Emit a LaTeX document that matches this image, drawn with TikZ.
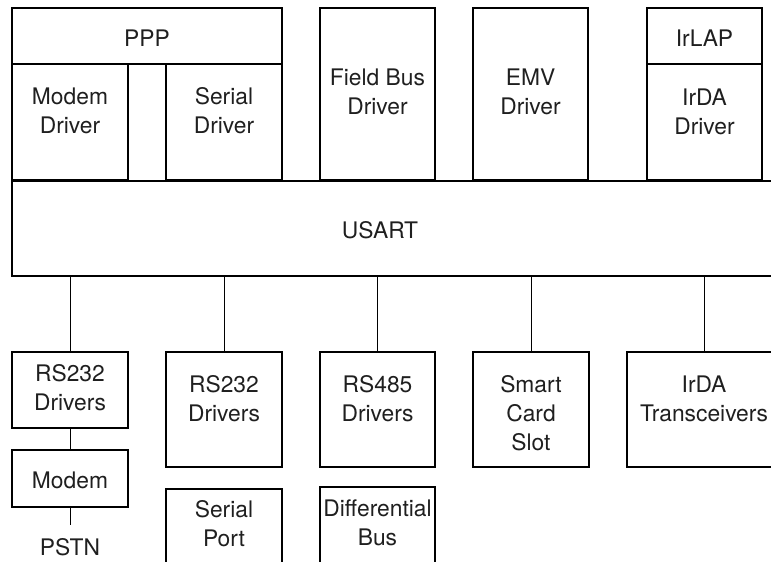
\documentclass[tikz,border=0pt]{standalone}
\usepackage{fontspec}
\setmainfont{TeX Gyre Heros}
\begin{document}
\begin{tikzpicture}[x=1pt,y=-1pt,
  box/.style={draw=black,line width=2.2pt,rectangle,inner sep=0pt,outer sep=0pt},
  txt/.style={inner sep=0pt,align=center,font=\fontsize{22.8}{29}\selectfont,text=black!88},
  wire/.style={draw=black,line width=1pt}]
\useasboundingbox (0,0) rectangle (771,562);
\clip (0,0) rectangle (771,562);
% top row boxes
\node[box,minimum width=270pt,minimum height=56pt] (ppp) at (147,36) {};
\node[box,minimum width=116pt,minimum height=116pt] (modemdrv) at (70,122) {};
\node[box,minimum width=116pt,minimum height=116pt] (serialdrv) at (224,122) {};
\node[box,minimum width=115pt,minimum height=172pt] (fieldbus) at (377.5,94) {};
\node[box,minimum width=115pt,minimum height=172pt] (emv) at (530.5,94) {};
\node[box,minimum width=115pt,minimum height=56pt] (irlap) at (704.5,36) {};
\node[box,minimum width=115pt,minimum height=116pt] (irdadrv) at (704.5,122) {};
% USART
\node[box,line width=2.6pt,minimum width=800pt,minimum height=95pt] (usart) at (412,228.5) {};
% bottom row boxes
\node[box,minimum width=116pt,minimum height=76pt] (rs232a) at (70,390) {};
\node[box,minimum width=116pt,minimum height=57pt] (modem) at (70,478.5) {};
\node[box,minimum width=116pt,minimum height=115pt] (rs232b) at (224,409.5) {};
\node[box,minimum width=116pt,minimum height=120pt] (serialport) at (224,549) {};
\node[box,minimum width=115pt,minimum height=115pt] (rs485) at (377.5,409.5) {};
\node[box,minimum width=115pt,minimum height=120pt] (diffbus) at (377.5,547) {};
\node[box,minimum width=116pt,minimum height=115pt] (smart) at (531,409.5) {};
\node[box,minimum width=154pt,minimum height=115pt] (irdatr) at (704,409.5) {};
% texts
\node[txt] (tppp) at (147,38) {PPP};
\node[txt] (tmodemdrv) at (70,111) {Modem\\Driver};
\node[txt] (tserialdrv) at (224,111) {Serial\\Driver};
\node[txt] (tfieldbus) at (377.5,92) {Field Bus\\Driver};
\node[txt] (temv) at (530.5,92) {EMV\\Driver};
\node[txt] (tirlap) at (704.5,38) {IrLAP};
\node[txt] (tirdadrv) at (704.5,112) {IrDA\\Driver};
\node[txt] (tusart) at (380,230) {USART};
\node[txt] (trs232a) at (70,388) {RS232\\Drivers};
\node[txt] (tmodem) at (70,480) {Modem};
\node[txt] (tpstn) at (70,547) {PSTN};
\node[txt] (trs232b) at (224,399) {RS232\\Drivers};
\node[txt] (tserialport) at (224,524) {Serial\\Port};
\node[txt] (trs485) at (377.5,399) {RS485\\Drivers};
\node[txt] (tdiffbus) at (377.5,523) {Differential\\Bus};
\node[txt] (tsmart) at (531,413) {Smart\\Card\\Slot};
\node[txt] (tirdatr) at (704,399) {IrDA\\Transceivers};
% connectors
\coordinate (pstnend) at (70,525);
\draw[wire] (usart.south -| rs232a.north) -- (rs232a.north);
\draw[wire] (usart.south -| rs232b.north) -- (rs232b.north);
\draw[wire] (usart.south -| rs485.north) -- (rs485.north);
\draw[wire] (usart.south -| smart.north) -- (smart.north);
\draw[wire] (usart.south -| irdatr.north) -- (irdatr.north);
\draw[wire] (rs232a.south) -- (modem.north);
\draw[wire] (modem.south) -- (pstnend);
\end{tikzpicture}
\end{document}
